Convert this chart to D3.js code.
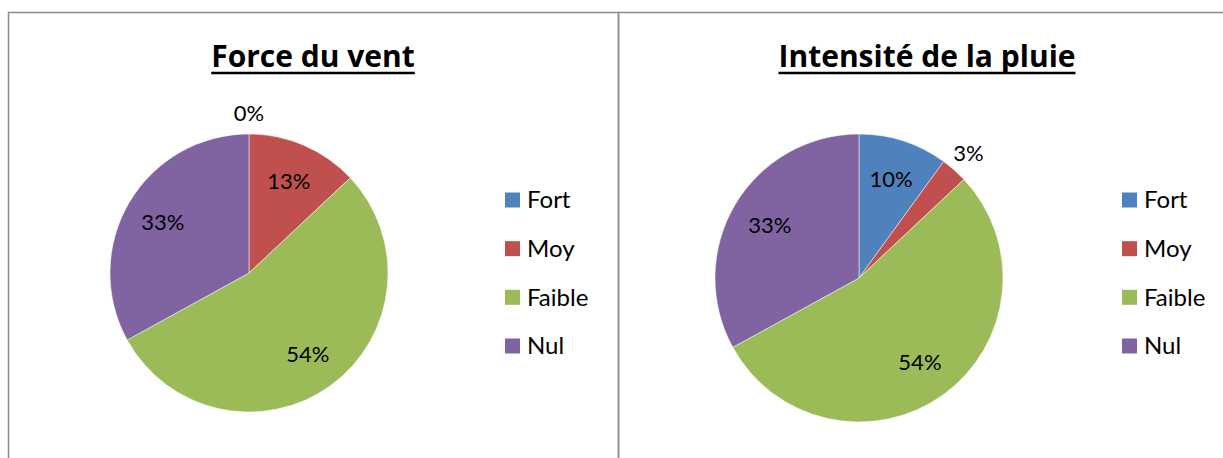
<!DOCTYPE html>
<html>
<head>
<meta charset="utf-8">
<script src="https://cdn.jsdelivr.net/npm/d3@7"></script>
<style>
  body { margin: 0; background: #fff; }
  svg { display: block; font-family: Lato, "Open Sans", sans-serif; }
</style>
</head>
<body>
<svg id="canvas" width="1223" height="458"></svg>
<script>
var categories = ["Fort", "Moy", "Faible", "Nul"];
var colors = ["#4F81BD", "#C0504D", "#9BBB59", "#8064A2"];
var titles = ["Force du vent", "Intensité de la pluie"];
var ventValues = [0, 13, 54, 33];
var pluieValues = [10, 3, 54, 33];

var charts = [
	{title: titles[0], values: ventValues, x0: 8.5, cx: 249, cy: 273, r: 139, tx: 313, lx: 505},
	{title: titles[1], values: pluieValues, x0: 618.5, cx: 859, cy: 278, r: 144, tx: 927, lx: 1122}
];

var svg = d3.select("#canvas");
var color = d3.scaleOrdinal().domain(categories).range(colors);

// panel frames (bottom and right edge fall outside the picture)
charts.forEach(function(c){
	svg.append("rect")
		.attr("x", c.x0)
		.attr("y", 12.5)
		.attr("width", 610)
		.attr("height", 500)
		.attr("fill", "none")
		.attr("stroke", "#8c8c8c")
		.attr("stroke-width", 1.5);
});

charts.forEach(function(c){
	var g = svg.append("g");

	// title, bold and underlined
	var t = g.append("text")
		.attr("x", c.tx)
		.attr("y", 67)
		.attr("text-anchor", "middle")
		.attr("font-family", "'Open Sans', sans-serif")
		.attr("font-size", 30)
		.attr("font-weight", "bold")
		.text(c.title);
	var w = t.node().getComputedTextLength();
	g.append("line")
		.attr("x1", c.tx - w / 2)
		.attr("x2", c.tx + w / 2)
		.attr("y1", 73)
		.attr("y2", 73)
		.attr("stroke", "#000")
		.attr("stroke-width", 2.5);

	var data = categories.map(function(k, i){ return {cat: k, value: c.values[i]}; });
	var pie = d3.pie().sort(null).value(function(d){ return d.value; });
	var arcs = pie(data);
	var arc = d3.arc().innerRadius(0).outerRadius(c.r);
	var inner = d3.arc().innerRadius(c.r * 0.72).outerRadius(c.r * 0.72);
	var outer = d3.arc().innerRadius(c.r * 1.15).outerRadius(c.r * 1.15);

	var pg = g.append("g").attr("transform", "translate(" + c.cx + "," + c.cy + ")");
	pg.selectAll("path")
		.data(arcs)
		.enter()
		.append("path")
		.attr("d", arc)
		.attr("fill", function(d){ return color(d.data.cat); })
		.attr("stroke", "#fff")
		.attr("stroke-width", 0.5);

	pg.selectAll("text")
		.data(arcs)
		.enter()
		.append("text")
		.attr("transform", function(d){
			var p = d.data.value < 5 ? outer.centroid(d) : inner.centroid(d);
			return "translate(" + p[0] + "," + p[1] + ")";
		})
		.attr("text-anchor", "middle")
		.attr("dy", "0.35em")
		.attr("font-size", 22)
		.attr("fill", "#000")
		.text(function(d){ return d.data.value + "%"; });

	// legend
	var y = d3.scalePoint().domain(categories).range([200, 346]);
	var lg = g.append("g");
	lg.selectAll("rect")
		.data(categories)
		.enter()
		.append("rect")
		.attr("x", c.lx)
		.attr("y", function(d){ return y(d) - 7.5; })
		.attr("width", 15)
		.attr("height", 15)
		.attr("fill", function(d){ return color(d); });
	lg.selectAll("text")
		.data(categories)
		.enter()
		.append("text")
		.attr("x", c.lx + 22)
		.attr("y", function(d){ return y(d); })
		.attr("dy", "0.35em")
		.attr("font-size", 24)
		.text(function(d){ return d; });
});
</script>
</body>
</html>
